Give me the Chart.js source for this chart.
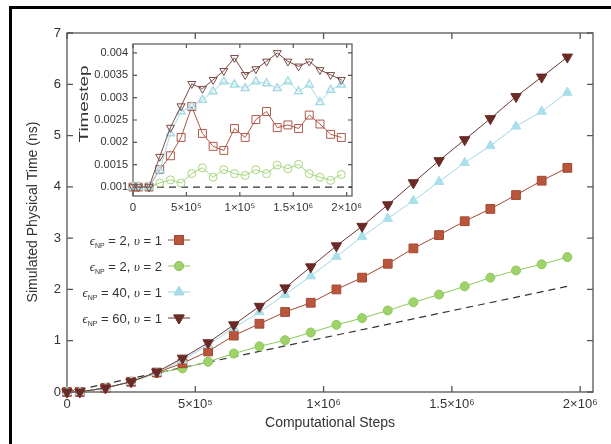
<!DOCTYPE html>
<html>
<head>
<meta charset="utf-8">
<script src="https://cdn.jsdelivr.net/npm/chart.js@4.4.1/dist/chart.umd.min.js"></script>
<style>
  body { margin: 0; background: #fff; }
  #wrap { position: relative; width: 611px; height: 444px; }
  canvas { position: absolute; left: 0; top: 0; }
</style>
</head>
<body>
<div id="wrap">
  <canvas id="main" width="611" height="444"></canvas>
  <canvas id="inset" width="611" height="444"></canvas>
</div>
<script>
// computational steps (same for every run)
const steps = [0, 50000, 150000, 250000, 350000, 450000, 550000, 650000, 750000, 850000, 950000,
  1050000, 1150000, 1250000, 1350000, 1450000, 1550000, 1650000, 1750000, 1850000, 1950000];

// simulated physical time (ns)
const timeEps2v1 = [0, 0, 0.08, 0.2, 0.38, 0.56, 0.79, 1.10, 1.33, 1.56, 1.74, 2.00, 2.23, 2.50, 2.80, 3.06, 3.33, 3.57, 3.84, 4.12, 4.37];
const timeEps2v2 = [0, 0, 0.08, 0.2, 0.37, 0.46, 0.59, 0.75, 0.89, 1.01, 1.16, 1.31, 1.44, 1.59, 1.75, 1.90, 2.06, 2.23, 2.37, 2.49, 2.63];
const timeEps40v1 = [0, 0, 0.08, 0.2, 0.38, 0.62, 0.92, 1.25, 1.56, 1.90, 2.26, 2.64, 3.03, 3.38, 3.73, 4.10, 4.47, 4.80, 5.18, 5.47, 5.84];
const timeEps60v1 = [0, 0, 0.08, 0.2, 0.39, 0.66, 0.96, 1.31, 1.67, 2.03, 2.44, 2.85, 3.23, 3.65, 4.08, 4.51, 4.92, 5.33, 5.76, 6.14, 6.53];
const refSteps = [0, 1950000];
const refTime = [0, 2.06];

// timestep (inset)
const tsEps2v1 = [0.001, 0.001, 0.001, 0.00139, 0.0017, 0.00211, 0.0028, 0.0022, 0.00191, 0.00182, 0.00231, 0.00211, 0.00251, 0.00269, 0.00233, 0.00239, 0.00231, 0.00261, 0.00241, 0.00218, 0.00211];
const tsEps2v2 = [0.001, 0.001, 0.001, 0.00109, 0.00116, 0.00109, 0.0013, 0.00143, 0.00122, 0.00139, 0.0013, 0.00126, 0.00139, 0.0013, 0.00149, 0.00141, 0.00151, 0.0013, 0.00122, 0.00115, 0.00128];
const tsEps40v1 = [0.001, 0.001, 0.001, 0.00137, 0.0022, 0.00269, 0.0028, 0.00295, 0.00314, 0.00336, 0.00329, 0.00321, 0.00336, 0.00332, 0.00321, 0.00336, 0.00314, 0.00329, 0.0029, 0.00317, 0.00329];
const tsEps60v1 = [0.001, 0.001, 0.001, 0.00168, 0.00233, 0.00281, 0.00331, 0.0032, 0.0034, 0.0036, 0.00389, 0.00351, 0.00364, 0.00381, 0.004, 0.00381, 0.0037, 0.00381, 0.00362, 0.00351, 0.0034];
const refTsSteps = [0, 2050000];
const refTs = [0.001, 0.001];

// ticks
const xTicks = [0, 500000, 1000000, 1500000, 2000000];
const xTickLabels = ['0', '5×10⁵', '1×10⁶', '1.5×10⁶', '2×10⁶'];
const insetXTickLabels = ['0', '5×10⁵', '1×10⁵', '1.5×10⁶', '2×10⁶'];
const yTicks = [0, 1, 2, 3, 4, 5, 6, 7];
const insetYTicks = [0.001, 0.0015, 0.002, 0.0025, 0.003, 0.0035, 0.004];

// legend rows: eps, upsilon
const legendEps = ['2', '2', '40', '60'];
const legendUps = ['1', '2', '1', '1'];

const FONT = '"Liberation Sans", Arial, sans-serif';
const RED = '#b9553b', GREEN = '#9ed36a', CYAN = '#a9dfea', BROWN = '#6b2a25';

function pts(xs, ys) { return xs.map((x, i) => ({ x, y: ys[i] })); }

// box + inward ticks on all four sides
const boxPlugin = {
  id: 'box',
  beforeDatasetsDraw(chart, args, o) {
    const { ctx, chartArea: a } = chart;
    const xs = chart.scales.x, ys = chart.scales.y;
    ctx.save();
    if (o.fill) { ctx.fillStyle = '#fff'; ctx.fillRect(a.left, a.top, a.right - a.left, a.bottom - a.top); }
    ctx.strokeStyle = o.color; ctx.lineWidth = o.width;
    ctx.strokeRect(a.left, a.top, a.right - a.left, a.bottom - a.top);
    ctx.beginPath();
    xs.ticks.forEach(t => {
      const px = xs.getPixelForValue(t.value);
      ctx.moveTo(px, a.bottom); ctx.lineTo(px, a.bottom - o.len);
      ctx.moveTo(px, a.top); ctx.lineTo(px, a.top + o.len);
    });
    ys.ticks.forEach(t => {
      const py = ys.getPixelForValue(t.value);
      ctx.moveTo(a.left, py); ctx.lineTo(a.left + o.len, py);
      ctx.moveTo(a.right, py); ctx.lineTo(a.right - o.len, py);
    });
    ctx.stroke();
    ctx.restore();
  }
};

// frame, titles and legend of the main plot
const decoPlugin = {
  id: 'deco',
  afterDraw(chart) {
    const ctx = chart.ctx;
    ctx.save();
    ctx.fillStyle = '#000';
    ctx.fillRect(9, 6, 602, 3);
    ctx.fillRect(9, 6, 3, 438);

    ctx.fillStyle = '#333';
    ctx.font = '14px ' + FONT;
    ctx.textAlign = 'center'; ctx.textBaseline = 'middle';
    ctx.fillText('Computational Steps', 330, 423);
    ctx.save();
    ctx.translate(33, 212); ctx.rotate(-Math.PI / 2);
    ctx.fillText('Simulated Physical Time (ns)', 0, 0);
    ctx.restore();

    // legend
    const rows = [240, 266, 292, 318];
    const marks = [
      { style: 'rect', color: RED, line: '#a34a35', r: 6.2, rot: 0 },
      { style: 'circle', color: GREEN, line: '#8cc85a', r: 4.5, rot: 0 },
      { style: 'triangle', color: CYAN, line: '#9fd6e2', r: 5.5, rot: 0 },
      { style: 'triangle', color: BROWN, line: '#6b3530', r: 6, rot: 180 }
    ];
    const fIt = 'italic 13px "Liberation Serif", serif';
    const fSub = '7px ' + FONT;
    const fTx = '13px ' + FONT;
    ctx.textAlign = 'left'; ctx.textBaseline = 'alphabetic';
    rows.forEach((y, i) => {
      const parts = [
        [fIt, 'ϵ', 0], [fSub, 'NP', 3], [fTx, ' = ' + legendEps[i] + ', ', 0],
        [fIt, 'υ', 0], [fTx, ' = ' + legendUps[i], 0]
      ];
      let w = 0;
      parts.forEach(p => { ctx.font = p[0]; w += ctx.measureText(p[1]).width; });
      let x = 162 - w;
      const base = y + 4.5;
      parts.forEach(p => {
        ctx.font = p[0]; ctx.fillStyle = '#333';
        ctx.fillText(p[1], x, base + p[2]);
        x += ctx.measureText(p[1]).width;
      });
      const m = marks[i];
      ctx.strokeStyle = m.line; ctx.lineWidth = 1;
      ctx.beginPath(); ctx.moveTo(168, y); ctx.lineTo(190, y); ctx.stroke();
      ctx.fillStyle = m.color; ctx.strokeStyle = m.line;
      Chart.helpers.drawPoint(ctx, { pointStyle: m.style, radius: m.r, rotation: m.rot, borderWidth: 1 }, 179, y);
      ctx.fill(); ctx.stroke();
    });
    ctx.restore();
  }
};

const insetTitlePlugin = {
  id: 'insetTitle',
  afterDraw(chart) {
    const ctx = chart.ctx;
    ctx.save();
    ctx.fillStyle = '#333';
    ctx.font = '13px ' + FONT;
    ctx.textAlign = 'center'; ctx.textBaseline = 'middle';
    ctx.translate(84, 104); ctx.rotate(-Math.PI / 2); ctx.scale(1.45, 1);
    ctx.fillText('Timestep', 0, 0);
    ctx.restore();
  }
};

function series(label, xs, ys, o) {
  return Object.assign({
    label, data: pts(xs, ys), borderWidth: 1, clip: false, tension: 0,
    pointBorderWidth: 1
  }, o);
}

new Chart(document.getElementById('main'), {
  type: 'line',
  data: {
    datasets: [
      series('eps60', steps, timeEps60v1, { borderColor: '#6b3530', pointBackgroundColor: BROWN, pointBorderColor: BROWN, pointStyle: 'triangle', pointRotation: 180, pointRadius: 6 }),
      series('eps40', steps, timeEps40v1, { borderColor: '#9fd6e2', pointBackgroundColor: CYAN, pointBorderColor: CYAN, pointStyle: 'triangle', pointRadius: 5.5 }),
      series('eps2v1', steps, timeEps2v1, { borderColor: '#a34a35', pointBackgroundColor: RED, pointBorderColor: '#a34a35', pointStyle: 'rect', pointRadius: 6.2 }),
      series('eps2v2', steps, timeEps2v2, { borderColor: '#8cc85a', pointBackgroundColor: GREEN, pointBorderColor: '#8cc85a', pointStyle: 'circle', pointRadius: 4.5 }),
      series('ref', refSteps, refTime, { borderColor: '#333', borderDash: [7, 5], borderWidth: 1.2, pointRadius: 0 })
    ]
  },
  options: {
    responsive: false, animation: false, events: [],
    layout: { padding: { left: 0, top: 33, right: 18, bottom: 0 } },
    plugins: { legend: { display: false }, tooltip: { enabled: false }, box: { len: 6, color: '#555', width: 1.3, fill: false } },
    scales: {
      x: {
        type: 'linear', min: 0, max: 2050000,
        afterBuildTicks: s => { s.ticks = xTicks.map(v => ({ value: v })); },
        afterFit: s => { s.height = 52; },
        grid: { display: false, drawTicks: false }, border: { display: false },
        ticks: { padding: 5, color: '#333', font: { family: FONT, size: 13 }, maxRotation: 0, autoSkip: false,
          callback: v => xTickLabels[xTicks.indexOf(v)] }
      },
      y: {
        min: 0, max: 7,
        afterBuildTicks: s => { s.ticks = yTicks.map(v => ({ value: v })); },
        afterFit: s => { s.width = 67; },
        grid: { display: false, drawTicks: false }, border: { display: false },
        ticks: { padding: 6, color: '#333', font: { family: FONT, size: 13 }, callback: v => String(v) }
      }
    }
  },
  plugins: [boxPlugin, decoPlugin]
});

new Chart(document.getElementById('inset'), {
  type: 'line',
  data: {
    datasets: [
      series('eps60', steps, tsEps60v1, { borderColor: '#7a4a45', pointBackgroundColor: 'rgba(0,0,0,0)', pointBorderColor: '#7a4a45', pointStyle: 'triangle', pointRotation: 180, pointRadius: 4.6 }),
      series('eps40', steps, tsEps40v1, { borderColor: '#a6dbe6', pointBackgroundColor: 'rgba(0,0,0,0)', pointBorderColor: '#a6dbe6', pointStyle: 'triangle', pointRadius: 4.6, pointBorderWidth: 1.5 }),
      series('eps2v1', steps, tsEps2v1, { borderColor: '#b0584a', pointBackgroundColor: 'rgba(0,0,0,0)', pointBorderColor: '#b0584a', pointStyle: 'rect', pointRadius: 5.6 }),
      series('eps2v2', steps, tsEps2v2, { borderColor: '#a6d67e', pointBackgroundColor: 'rgba(0,0,0,0)', pointBorderColor: '#a6d67e', pointStyle: 'circle', pointRadius: 4 }),
      series('ref', refTsSteps, refTs, { borderColor: '#333', borderDash: [7, 5], borderWidth: 1.2, pointRadius: 0 })
    ]
  },
  options: {
    responsive: false, animation: false, events: [],
    layout: { padding: { left: 0, top: 44, right: 259, bottom: 0 } },
    plugins: { legend: { display: false }, tooltip: { enabled: false }, box: { len: 4, color: '#555', width: 1.2, fill: true } },
    scales: {
      x: {
        type: 'linear', min: 0, max: 2050000,
        afterBuildTicks: s => { s.ticks = xTicks.map(v => ({ value: v })); },
        afterFit: s => { s.height = 248; },
        grid: { display: false, drawTicks: false }, border: { display: false },
        ticks: { padding: 5, color: '#333', font: { family: FONT, size: 11.5 }, maxRotation: 0, autoSkip: false,
          callback: v => insetXTickLabels[xTicks.indexOf(v)] }
      },
      y: {
        min: 0.0008, max: 0.0042,
        afterBuildTicks: s => { s.ticks = insetYTicks.map(v => ({ value: v })); },
        afterFit: s => { s.width = 133; },
        grid: { display: false, drawTicks: false }, border: { display: false },
        ticks: { padding: 5, color: '#333', font: { family: FONT, size: 11 }, callback: v => String(v) }
      }
    }
  },
  plugins: [boxPlugin, insetTitlePlugin]
});
</script>
</body>
</html>
